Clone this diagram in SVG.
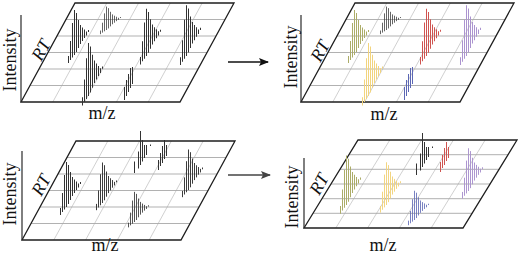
<svg xmlns="http://www.w3.org/2000/svg" width="520" height="257" viewBox="0 0 520 257">
<style>
.bg{fill:#fff}
.gs{stroke:#c4c4c4;stroke-width:0.8;fill:none}
.gh{stroke:#a8a8a8;stroke-width:0.9;fill:none}
.ed{stroke:#1e1e1e;stroke-width:1.3;fill:none;stroke-linejoin:miter}
.ax{stroke:#2a2a2a;stroke-width:1.2}
.t{font-family:"Liberation Serif","Times New Roman",serif;font-size:18px;fill:#111}
.it{font-style:italic}
.pk{fill:none;stroke-width:1}
.k{stroke:#333333}
.ol{stroke:#acac68}
.ye{stroke:#f2d47e}
.bl{stroke:#5c67b4}
.re{stroke:#cf5450}
.pu{stroke:#ab94cf}
.arr{stroke-width:1.5}
</style>
<defs>
<marker id="ah" viewBox="0 0 10 8" refX="9" refY="4" markerWidth="10" markerHeight="8" markerUnits="userSpaceOnUse" orient="auto">
<path d="M0 0L10 4L0 8L2 4Z" fill="context-stroke"/>
</marker>
</defs>
<rect class="bg" width="520" height="257"/>

<g id="panel-top-left">
<path class="gs" d="M106.8 3L52.8 102M138.6 3L84.6 102M170.4 3L116.4 102M202.2 3L148.2 102"/>
<path class="gh" d="M66 19.5H225M57 36H216M48 52.5H207M39 69H198M30 85.5H189"/>
<path class="ed" d="M75 3H234L180 102H21Z"/>
<line class="ax" x1="21" y1="15" x2="21" y2="102"/>
<path class="pk k" transform="translate(74.5,55)" d="M-6 8V1M-4 5V-14M-2 2.5V-32M0 0V-45M2-3V-42M4-7V-35M6-11V-30M8-14V-27.5M10-17V-25.5M12-19.5V-23.5M14-23V-25"/>
<path class="pk k" transform="translate(106.5,30) scale(1,0.52)" d="M-6 8V1M-4 5V-14M-2 2.5V-32M0 0V-45M2-3V-42M4-7V-35M6-11V-30M8-14V-27.5M10-17V-25.5M12-19.5V-23.5M14-23V-25"/>
<path class="pk k" transform="translate(88.5,96) scale(1,1.18)" d="M-6 8V1M-4 5V-14M-2 2.5V-32M0 0V-45M2-3V-42M4-7V-35M6-11V-30M8-14V-27.5M10-17V-25.5M12-19.5V-23.5M14-23V-25"/>
<path class="pk k" transform="translate(124.5,100)" d="M0 0V-13M2-4V-20M4-8V-26M6-12V-32M8-16V-33"/>
<path class="pk k" transform="translate(146.5,56) scale(1,1.05)" d="M-6 8V1M-4 5V-14M-2 2.5V-32M0 0V-45M2-3V-42M4-7V-35M6-11V-30M8-14V-27.5M10-17V-25.5M12-19.5V-23.5M14-23V-25"/>
<path class="pk k" transform="translate(186.5,56) scale(1,1.13)" d="M-6 8V1M-4 5V-14M-2 2.5V-32M0 0V-45M2-3V-42M4-7V-35M6-11V-30M8-14V-27.5M10-17V-25.5M12-19.5V-23.5M14-23V-25"/>
<text class="t" text-anchor="middle" transform="translate(15.5,60) rotate(-90)">Intensity</text>
<text class="t it" text-anchor="middle" transform="translate(41,50) rotate(-61.4)" y="6">RT</text>
<text class="t" text-anchor="middle" x="102" y="119">m/z</text>
</g>

<g id="panel-top-right">
<path class="gs" d="M386.8 3L332.8 102M418.6 3L364.6 102M450.4 3L396.4 102M482.2 3L428.2 102"/>
<path class="gh" d="M346 19.5H505M337 36H496M328 52.5H487M319 69H478M310 85.5H469"/>
<path class="ed" d="M355 3H514L460 102H301Z"/>
<line class="ax" x1="301" y1="15" x2="301" y2="102"/>
<path class="pk ol" transform="translate(354.5,55)" d="M-6 8V1M-4 5V-14M-2 2.5V-32M0 0V-45M2-3V-42M4-7V-35M6-11V-30M8-14V-27.5M10-17V-25.5M12-19.5V-23.5M14-23V-25"/>
<path class="pk k" transform="translate(386.5,30) scale(1,0.52)" d="M-6 8V1M-4 5V-14M-2 2.5V-32M0 0V-45M2-3V-42M4-7V-35M6-11V-30M8-14V-27.5M10-17V-25.5M12-19.5V-23.5M14-23V-25"/>
<path class="pk ye" transform="translate(368.5,96) scale(1,1.18)" d="M-6 8V1M-4 5V-14M-2 2.5V-32M0 0V-45M2-3V-42M4-7V-35M6-11V-30M8-14V-27.5M10-17V-25.5M12-19.5V-23.5M14-23V-25"/>
<path class="pk bl" transform="translate(404.5,100)" d="M0 0V-13M2-4V-20M4-8V-26M6-12V-32M8-16V-33"/>
<path class="pk re" transform="translate(426.5,56) scale(1,1.05)" d="M-6 8V1M-4 5V-14M-2 2.5V-32M0 0V-45M2-3V-42M4-7V-35M6-11V-30M8-14V-27.5M10-17V-25.5M12-19.5V-23.5M14-23V-25"/>
<path class="pk pu" transform="translate(466.5,56) scale(1,1.13)" d="M-6 8V1M-4 5V-14M-2 2.5V-32M0 0V-45M2-3V-42M4-7V-35M6-11V-30M8-14V-27.5M10-17V-25.5M12-19.5V-23.5M14-23V-25"/>
<text class="t" text-anchor="middle" transform="translate(296.5,57) rotate(-90)">Intensity</text>
<text class="t it" text-anchor="middle" transform="translate(320,51) rotate(-61.4)" y="6">RT</text>
<text class="t" text-anchor="middle" x="384" y="120">m/z</text>
</g>

<g id="panel-bottom-left">
<path class="gs" d="M107.8 141L53.8 240M139.6 141L85.6 240M171.4 141L117.4 240M203.2 141L149.2 240"/>
<path class="gh" d="M67 157.5H226M58 174H217M49 190.5H208M40 207H199M31 223.5H190"/>
<path class="ed" d="M76 141H235L181 240H22Z"/>
<line class="ax" x1="22" y1="151" x2="22" y2="240"/>
<path class="pk k" transform="translate(66.5,207)" d="M-6 8V1M-4 5V-14M-2 2.5V-32M0 0V-45M2-3V-42M4-7V-35M6-11V-30M8-14V-27.5M10-17V-25.5M12-19.5V-23.5M14-23V-25"/>
<path class="pk k" transform="translate(102.5,203) scale(1,0.9)" d="M-6 8V1M-4 5V-14M-2 2.5V-32M0 0V-45M2-3V-42M4-7V-35M6-11V-30M8-14V-27.5M10-17V-25.5M12-19.5V-23.5M14-23V-25"/>
<path class="pk k" transform="translate(134.5,222) scale(1,0.67)" d="M-6 8V1M-4 5V-14M-2 2.5V-32M0 0V-45M2-3V-42M4-7V-35M6-11V-30M8-14V-27.5M10-17V-25.5M12-19.5V-23.5M14-23V-25"/>
<path class="pk k" transform="translate(140.5,165)" d="M-6 8V-3.5M-2 3.5V-13.5M0 0V-34M2-3.5V-25M4-7V-20M6-10V-20M10-19V-20.5"/>
<path class="pk k" transform="translate(158.5,170)" d="M0 0V-10M2-4V-17M4-7V-24M6-11V-30M8-14V-25"/>
<path class="pk k" transform="translate(188.5,190) scale(1,0.9)" d="M-6 8V1M-4 5V-14M-2 2.5V-32M0 0V-45M2-3V-42M4-7V-35M6-11V-30M8-14V-27.5M10-17V-25.5M12-19.5V-23.5M14-23V-25"/>
<text class="t" text-anchor="middle" transform="translate(15.5,194) rotate(-90)">Intensity</text>
<text class="t it" text-anchor="middle" transform="translate(41,185) rotate(-61.4)" y="6">RT</text>
<text class="t" text-anchor="middle" x="105" y="251">m/z</text>
</g>

<g id="panel-bottom-right">
<path class="gs" d="M389.8 140L335.8 228M421.6 140L367.6 228M453.4 140L399.4 228M485.2 140L431.2 228"/>
<path class="gh" d="M349 154.7H508M340 169.3H499M331 184H490M322 198.7H481M313 213.3H472"/>
<path class="ed" d="M358 140H517L463 228H304Z"/>
<line class="ax" x1="304" y1="158" x2="304" y2="228"/>
<path class="pk ol" transform="translate(346.5,205) scale(1,1.1)" d="M-6 8V1M-4 5V-14M-2 2.5V-32M0 0V-45M2-3V-42M4-7V-35M6-11V-30M8-14V-27.5M10-17V-25.5M12-19.5V-23.5M14-23V-25"/>
<path class="pk ye" transform="translate(386.5,205) scale(1,0.95)" d="M-6 8V1M-4 5V-14M-2 2.5V-32M0 0V-45M2-3V-42M4-7V-35M6-11V-30M8-14V-27.5M10-17V-25.5M12-19.5V-23.5M14-23V-25"/>
<path class="pk bl" transform="translate(414.5,220) scale(1,0.65)" d="M-6 8V1M-4 5V-14M-2 2.5V-32M0 0V-45M2-3V-42M4-7V-35M6-11V-30M8-14V-27.5M10-17V-25.5M12-19.5V-23.5M14-23V-25"/>
<path class="pk k" transform="translate(422.5,167)" d="M-6 8V-3.5M-2 3.5V-13.5M0 0V-34M2-3.5V-25M4-7V-20M6-10V-20M10-19V-20.5"/>
<path class="pk re" transform="translate(440.5,172)" d="M0 0V-10M2-4V-17M4-7V-24M6-11V-30M8-14V-25"/>
<path class="pk pu" transform="translate(468.5,191) scale(1,0.95)" d="M-6 8V1M-4 5V-14M-2 2.5V-32M0 0V-45M2-3V-42M4-7V-35M6-11V-30M8-14V-27.5M10-17V-25.5M12-19.5V-23.5M14-23V-25"/>
<text class="t" text-anchor="middle" transform="translate(298,197) rotate(-90)">Intensity</text>
<text class="t it" text-anchor="middle" transform="translate(319,184) rotate(-61.4)" y="6">RT</text>
<text class="t" text-anchor="middle" x="383" y="251">m/z</text>
</g>

<g id="connectors">
<line class="arr" stroke="#111" x1="228" y1="62" x2="268" y2="62" marker-end="url(#ah)"/>
<line class="arr" stroke="#444" x1="228" y1="175" x2="270" y2="175" marker-end="url(#ah)"/>
</g>
</svg>
